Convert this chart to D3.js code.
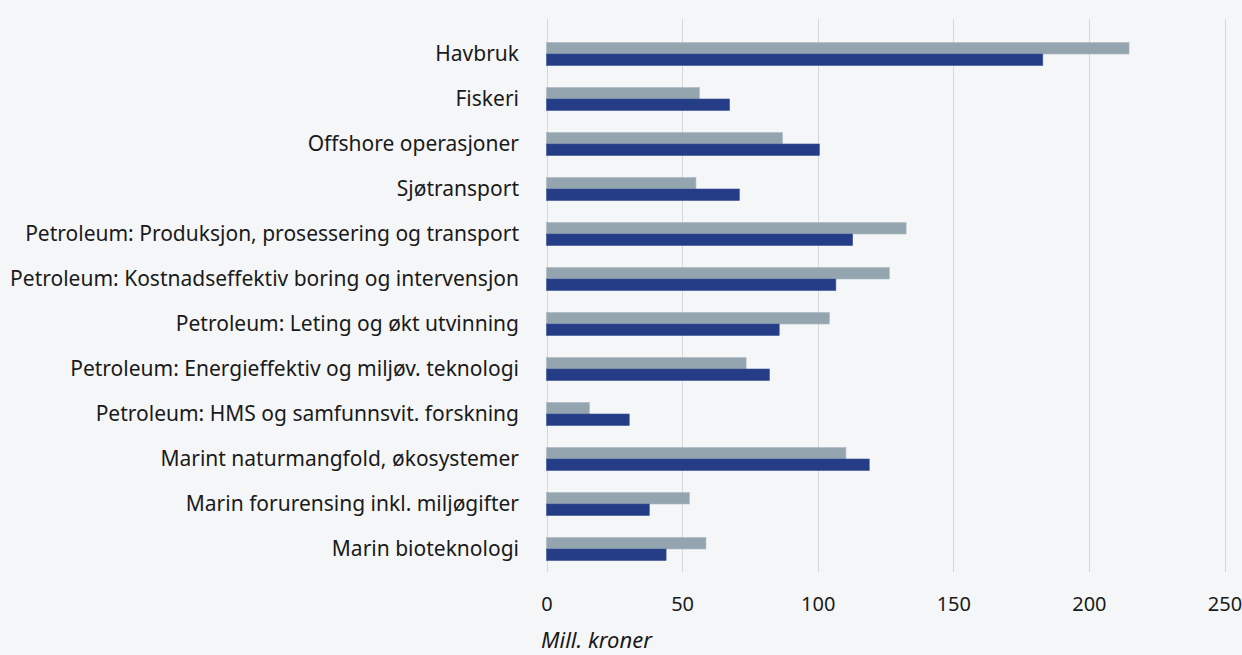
<!DOCTYPE html>
<html><head><meta charset="utf-8">
<script src="https://cdn.jsdelivr.net/npm/d3@7"></script>
<style>
html,body{margin:0;padding:0;background:#f5f6f8;}
svg{display:block;}
text{font-family:"Noto Sans",sans-serif;fill:#1a1a1a;}
</style></head>
<body>
<svg id="chart" width="1242" height="655"></svg>
<script>
const categories = [
  "Havbruk","Fiskeri","Offshore operasjoner","Sjøtransport",
  "Petroleum: Produksjon, prosessering og transport",
  "Petroleum: Kostnadseffektiv boring og intervensjon",
  "Petroleum: Leting og økt utvinning",
  "Petroleum: Energieffektiv og miljøv. teknologi",
  "Petroleum: HMS og samfunnsvit. forskning",
  "Marint naturmangfold, økosystemer",
  "Marin forurensing inkl. miljøgifter",
  "Marin bioteknologi"
];
const seriesGray = [214.8, 56.4, 87.0, 55.1, 132.6, 126.4, 104.3, 73.6, 15.8, 110.4, 52.7, 58.8];
const seriesBlue = [183.0, 67.5, 100.6, 71.1, 112.9, 106.7, 85.8, 82.2, 30.5, 119.0, 37.9, 44.1];
const xTicks = [0, 50, 100, 150, 200, 250];
const axisTitle = "Mill. kroner";

const svg = d3.select("#chart");
const x = d3.scaleLinear().domain([0, 250]).range([546.5, 1224.5]);
const y = d3.scaleBand().domain(categories).range([31.5, 571.5]).paddingInner(0.49).paddingOuter(0.245);
const sub = d3.scaleBand().domain(["gray","blue"]).range([0, y.bandwidth()]);

// gridlines
svg.append("g").selectAll("line").data(xTicks).join("line")
  .attr("x1", d => Math.round(x(d)) + 0.5).attr("x2", d => Math.round(x(d)) + 0.5)
  .attr("y1", 19).attr("y2", 572)
  .attr("stroke", "#d5d7db").attr("stroke-width", 1);

const data = categories.map((c, i) => ({c, gray: seriesGray[i], blue: seriesBlue[i]}));
const colors = {gray: "#94a5b0", blue: "#243d86"};

["gray","blue"].forEach(k => {
  svg.append("g").selectAll("rect").data(data).join("rect")
    .attr("x", x(0))
    .attr("y", d => y(d.c) + sub(k))
    .attr("width", d => x(d[k]) - x(0))
    .attr("height", sub.bandwidth())
    .attr("fill", colors[k])
    .attr("stroke", k === "gray" ? "#a9b7c0" : "#3b5296")
    .attr("stroke-width", 0.6);
});

// category labels
const yAxis = d3.axisLeft(y).tickSize(0).tickPadding(0);
const gy = svg.append("g").attr("transform", "translate(519,0)").call(yAxis);
gy.select(".domain").remove();
gy.selectAll("text").attr("font-size", 21).attr("font-family", "Noto Sans").attr("fill", "#1a1a1a")
  .attr("dy", "0.35em");

// x axis
const xAxis = d3.axisBottom(x).tickValues(xTicks).tickSize(0).tickPadding(0);
const gx = svg.append("g").attr("transform", "translate(0,611)").call(xAxis);
gx.select(".domain").remove();
gx.selectAll("text").attr("font-size", 20).attr("font-family", "Noto Sans").attr("fill", "#1a1a1a").attr("dy", 0);

svg.append("text").attr("x", 541).attr("y", 648)
  .attr("font-size", 22).attr("font-style", "italic").text(axisTitle);
</script>
</body></html>
